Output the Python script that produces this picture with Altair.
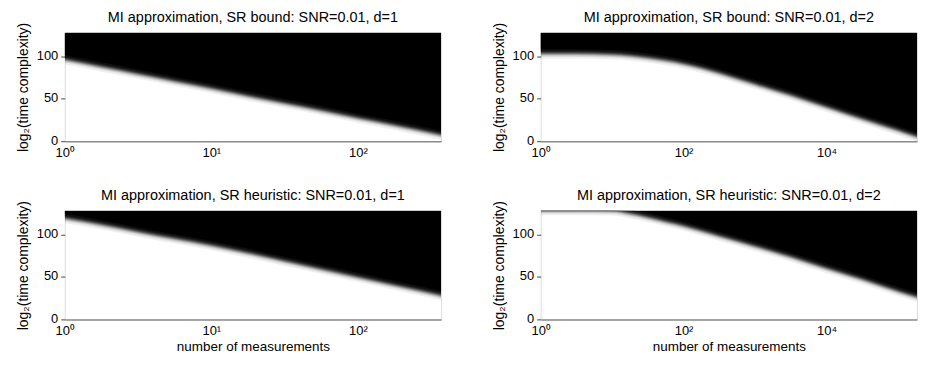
import math
import altair as alt
import pandas as pd

FONT = "Liberation Sans"
Y_MAX = 128
X_MAX_D1 = 370
X_MAX_D2 = 185000

# boundary (centre of the black/white transition)
tl_n = [1, 1.78, 3.16, 5.62, 10, 17.8, 31.6, 56.2, 100, 178, 370]
tl_bits = [96, 87.5, 79, 70.5, 62, 53, 44.5, 36, 27, 18.5, 7]

tr_n = [1, 3, 10, 18, 32, 56, 100, 178, 316, 562, 1000, 3162, 10000, 31623, 100000, 185000]
tr_bits = [103, 103, 102, 100.5, 98, 95, 91, 86, 80, 73.5, 67, 54, 40, 26, 12.5, 5]

bl_n = [1, 1.78, 3.16, 5.62, 10, 17.8, 31.6, 56.2, 100, 178, 370]
bl_bits = [119, 111.5, 103, 95, 87, 78, 68.5, 59, 49.5, 40, 28]

br_n = [1, 3, 10, 18, 32, 56, 100, 316, 1000, 3162, 10000, 31623, 100000, 185000]
br_bits = [128.3, 128.3, 128, 124.5, 120, 115, 110, 98, 86, 73.5, 60, 47, 33, 26]

titles = [
    "MI approximation, SR bound: SNR=0.01, d=1",
    "MI approximation, SR bound: SNR=0.01, d=2",
    "MI approximation, SR heuristic: SNR=0.01, d=1",
    "MI approximation, SR heuristic: SNR=0.01, d=2",
]
xticks_d1 = [1, 10, 100]
xticks_d2 = [1, 100, 10000]
yticks = [0, 50, 100]

# soft edge: stacked translucent areas approximating a logistic ramp
EDGE_S = 1.6
N_LAYERS = 16
offsets = []
for m in range(1, N_LAYERS + 1):
    d = (m - 0.5) / N_LAYERS
    offsets.append(EDGE_S * math.log(d / (1 - d)))

SUP_EXPR = ("datum.value == 1 ? '10\u2070' : datum.value == 10 ? '10\u00b9' : "
            "datum.value == 100 ? '10\u00b2' : datum.value == 1000 ? '10\u00b3' : "
            "datum.value == 10000 ? '10\u2074' : '10\u2075'")

W, H = 378, 109


def panel(n, bits, xmax, xticks, title, xlabel):
    df = pd.DataFrame({"n": n, "bits": bits})
    x_enc = alt.X(
        "n:Q",
        scale=alt.Scale(type="log", domain=[1, xmax], nice=False),
        axis=alt.Axis(
            values=xticks, labelExpr=SUP_EXPR, grid=False, ticks=False,
            domainColor="#8c8c8c", domainWidth=1.5, labelFont=FONT, labelFontSize=13,
            labelColor="black", labelPadding=5, labelFlush=False,
            title=xlabel if xlabel else None, titleFont=FONT, titleFontSize=13.5,
            titleFontWeight="normal", titleColor="black", titlePadding=2,
        ),
    )
    y_axis = alt.Axis(
        values=yticks, grid=False, ticks=True, tickSize=4, tickColor="#444",
        domain=False, labelFont=FONT, labelFontSize=13, labelColor="black",
        labelPadding=3, labelOffset=-1, title="log\u2082(time complexity)",
        titleFont=FONT, titleFontSize=14, titleFontWeight="normal",
        titleColor="black", titlePadding=6,
    )
    layers = []
    for j, off in enumerate(offsets, start=1):
        op = 1.0 / (N_LAYERS - j + 1)
        layers.append(
            alt.Chart(df)
            .transform_calculate(lo=f"datum.bits + ({off:.4f})")
            .mark_area(color="black", opacity=op, clip=True, interpolate="monotone")
            .encode(
                x=x_enc,
                y=alt.Y("lo:Q",
                        scale=alt.Scale(domain=[0, Y_MAX], nice=False, zero=False),
                        axis=y_axis),
                y2=alt.datum(Y_MAX),
            )
        )
    return alt.layer(*layers).properties(
        width=W, height=H,
        title=alt.TitleParams(title, font=FONT, fontSize=14.5, fontWeight="normal",
                              color="black", offset=-3),
    )


tl = panel(tl_n, tl_bits, X_MAX_D1, xticks_d1, titles[0], None)
tr = panel(tr_n, tr_bits, X_MAX_D2, xticks_d2, titles[1], None)
bl = panel(bl_n, bl_bits, X_MAX_D1, xticks_d1, titles[2], "number of measurements")
br = panel(br_n, br_bits, X_MAX_D2, xticks_d2, titles[3], "number of measurements")

chart = (
    alt.vconcat(
        alt.hconcat(tl, tr, spacing=49),
        alt.hconcat(bl, br, spacing=49),
        spacing=27,
    )
    .properties(padding={"left": 7, "top": 0, "right": 0, "bottom": 0})
    .configure_view(stroke=None)
    .configure(background="white")
)

chart.save("out.html", embed_options={"renderer": "svg", "actions": False})
